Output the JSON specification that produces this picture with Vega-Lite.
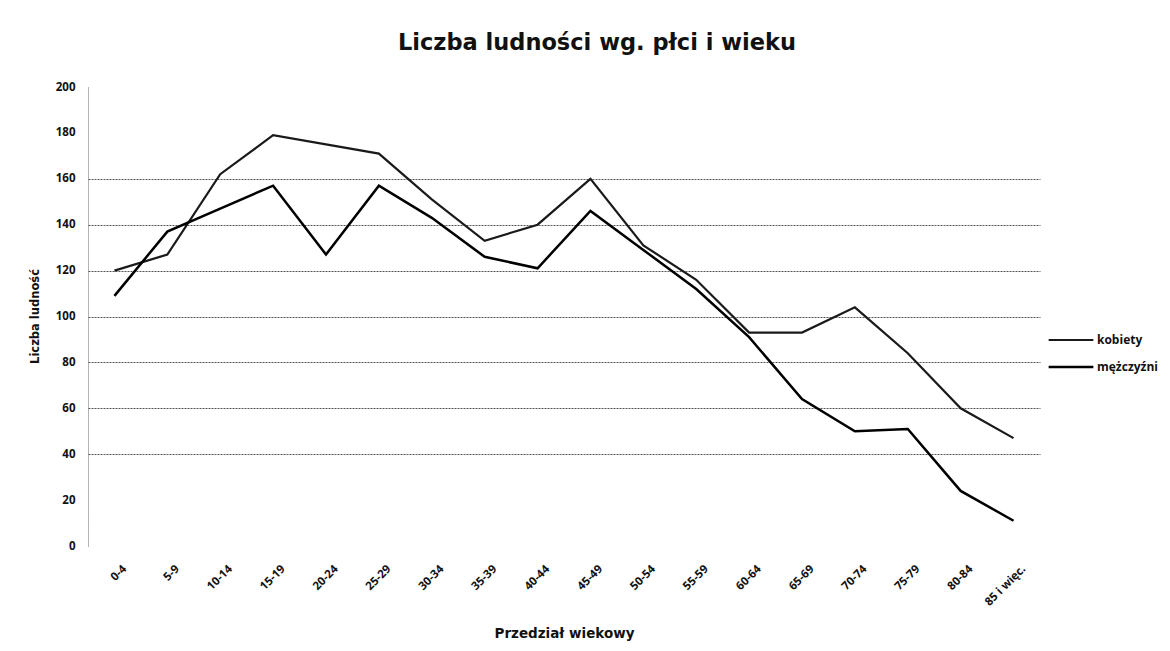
{
  "$schema": "https://vega.github.io/schema/vega-lite/v6.json",
  "width": 952,
  "height": 459,
  "autosize": {"type": "none"},
  "padding": {"left": 88, "top": 87, "right": 130, "bottom": 105},
  "background": "#ffffff",
  "title": {
    "text": "Liczba ludności wg. płci i wieku",
    "font": "DejaVu Sans",
    "fontSize": 22.5,
    "fontWeight": "bold",
    "color": "#111111",
    "anchor": "middle",
    "dx": 33,
    "offset": 27
  },
  "config": {
    "view": {"stroke": null},
    "font": "Open Sans"
  },
  "data": {
    "values": [
      {"wiek": "0-4", "plec": "kobiety", "liczba": 120},
      {"wiek": "5-9", "plec": "kobiety", "liczba": 127},
      {"wiek": "10-14", "plec": "kobiety", "liczba": 162},
      {"wiek": "15-19", "plec": "kobiety", "liczba": 179},
      {"wiek": "20-24", "plec": "kobiety", "liczba": 175},
      {"wiek": "25-29", "plec": "kobiety", "liczba": 171},
      {"wiek": "30-34", "plec": "kobiety", "liczba": 151},
      {"wiek": "35-39", "plec": "kobiety", "liczba": 133},
      {"wiek": "40-44", "plec": "kobiety", "liczba": 140},
      {"wiek": "45-49", "plec": "kobiety", "liczba": 160},
      {"wiek": "50-54", "plec": "kobiety", "liczba": 131},
      {"wiek": "55-59", "plec": "kobiety", "liczba": 116},
      {"wiek": "60-64", "plec": "kobiety", "liczba": 93},
      {"wiek": "65-69", "plec": "kobiety", "liczba": 93},
      {"wiek": "70-74", "plec": "kobiety", "liczba": 104},
      {"wiek": "75-79", "plec": "kobiety", "liczba": 84},
      {"wiek": "80-84", "plec": "kobiety", "liczba": 60},
      {"wiek": "85 i więc.", "plec": "kobiety", "liczba": 47},
      {"wiek": "0-4", "plec": "mężczyźni", "liczba": 109},
      {"wiek": "5-9", "plec": "mężczyźni", "liczba": 137},
      {"wiek": "10-14", "plec": "mężczyźni", "liczba": 147},
      {"wiek": "15-19", "plec": "mężczyźni", "liczba": 157},
      {"wiek": "20-24", "plec": "mężczyźni", "liczba": 127},
      {"wiek": "25-29", "plec": "mężczyźni", "liczba": 157},
      {"wiek": "30-34", "plec": "mężczyźni", "liczba": 143},
      {"wiek": "35-39", "plec": "mężczyźni", "liczba": 126},
      {"wiek": "40-44", "plec": "mężczyźni", "liczba": 121},
      {"wiek": "45-49", "plec": "mężczyźni", "liczba": 146},
      {"wiek": "50-54", "plec": "mężczyźni", "liczba": 129},
      {"wiek": "55-59", "plec": "mężczyźni", "liczba": 112},
      {"wiek": "60-64", "plec": "mężczyźni", "liczba": 91},
      {"wiek": "65-69", "plec": "mężczyźni", "liczba": 64},
      {"wiek": "70-74", "plec": "mężczyźni", "liczba": 50},
      {"wiek": "75-79", "plec": "mężczyźni", "liczba": 51},
      {"wiek": "80-84", "plec": "mężczyźni", "liczba": 24},
      {"wiek": "85 i więc.", "plec": "mężczyźni", "liczba": 11}
    ]
  },
  "mark": {"type": "line", "strokeJoin": "miter"},
  "encoding": {
    "x": {
      "field": "wiek",
      "type": "ordinal",
      "sort": null,
      "scale": {"type": "point", "padding": 0.5},
      "axis": {
        "title": "Przedział wiekowy",
        "titleFont": "DejaVu Sans",
        "titleFontSize": 13.5,
        "titleFontWeight": "bold",
        "titleColor": "#111111",
        "titleY": 87,
        "titleBaseline": "middle",
        "labelAngle": -45,
        "labelAlign": "right",
        "labelBaseline": "middle",
        "labelPadding": 21,
        "labelOffset": 10,
        "labelFont": "Open Sans",
        "labelFontSize": 11.5,
        "labelFontWeight": "bold",
        "labelColor": "#111111",
        "ticks": false,
        "domain": false,
        "grid": false
      }
    },
    "y": {
      "field": "liczba",
      "type": "quantitative",
      "scale": {"domain": [0, 200], "nice": false},
      "axis": {
        "title": "Liczba ludność",
        "titleFont": "DejaVu Sans",
        "titleFontSize": 11.5,
        "titleFontWeight": "bold",
        "titleColor": "#111111",
        "titleX": -53,
        "titleY": 229,
        "titleAlign": "center",
        "titleBaseline": "middle",
        "values": [0, 20, 40, 60, 80, 100, 120, 140, 160, 180, 200],
        "labelFont": "Open Sans",
        "labelFontSize": 11.5,
        "labelFontWeight": "bold",
        "labelColor": "#111111",
        "labelPadding": 13,
        "ticks": false,
        "domain": true,
        "domainColor": "#666666",
        "domainDash": [1, 1],
        "domainWidth": 1,
        "grid": true,
        "gridColor": "#444444",
        "gridDash": [2, 1],
        "gridWidth": 1,
        "gridOpacity": {"condition": {"test": "datum.value >= 40 && datum.value <= 160", "value": 0.9}, "value": 0}
      }
    },
    "color": {
      "field": "plec",
      "type": "nominal",
      "scale": {"domain": ["kobiety", "mężczyźni"], "range": ["#1a1a1a", "#000000"]},
      "legend": {
        "title": null,
        "orient": "none",
        "legendX": 959,
        "legendY": 246,
        "symbolType": "stroke",
        "symbolSize": 2000,
        "symbolStrokeWidth": 2,
        "clipHeight": 14,
        "labelFont": "Open Sans",
        "labelFontSize": 12,
        "labelFontWeight": "bold",
        "labelColor": "#111111",
        "labelOffset": 2,
        "rowPadding": 13
      }
    },
    "strokeWidth": {
      "field": "plec",
      "type": "nominal",
      "scale": {"domain": ["kobiety", "mężczyźni"], "range": [2.2, 2.5]},
      "legend": null
    }
  }
}
